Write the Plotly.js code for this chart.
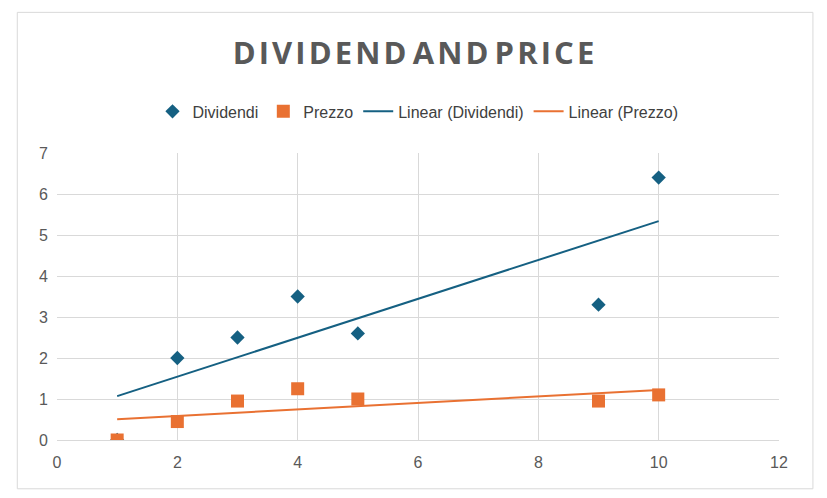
<!DOCTYPE html>
<html><head><meta charset="utf-8">
<script src="https://cdn.plot.ly/plotly-3.0.1.min.js"></script>
<style>body{margin:0;background:#fff}</style></head>
<body><div id="c" style="width:827px;height:498px"></div>
<script>
const xVals = [1, 2, 3, 4, 5, 9, 10];
const dividendi = [0, 2, 2.5, 3.5, 2.6, 3.3, 6.4];
const prezzo = [0, 0.45, 0.95, 1.25, 1.0, 0.95, 1.1];
function fit(x, y) {
  const n = x.length, mx = x.reduce((a,b)=>a+b)/n, my = y.reduce((a,b)=>a+b)/n;
  let sxy = 0, sxx = 0;
  for (let i = 0; i < n; i++) { sxy += (x[i]-mx)*(y[i]-my); sxx += (x[i]-mx)**2; }
  const m = sxy/sxx, b = my - m*mx;
  const xs = [Math.min(...x), Math.max(...x)];
  return {x: xs, y: xs.map(v => m*v + b)};
}
const fd = fit(xVals, dividendi), fp = fit(xVals, prezzo);
const blue = '#156082', orange = '#E97132';
const data = [
  {x: xVals, y: dividendi, mode: 'markers', name: 'Dividendi', marker: {symbol: 'diamond', size: 11, color: blue}},
  {x: xVals, y: prezzo, mode: 'markers', name: 'Prezzo', marker: {symbol: 'square', size: 13, color: orange}},
  {x: fd.x, y: fd.y, mode: 'lines', name: 'Linear (Dividendi)', line: {color: blue, width: 2}},
  {x: fp.x, y: fp.y, mode: 'lines', name: 'Linear (Prezzo)', line: {color: orange, width: 2}}
];
const layout = {
  width: 827, height: 498,
  margin: {l: 57, r: 48, t: 153, b: 58},
  paper_bgcolor: '#fff', plot_bgcolor: '#fff',
  font: {family: 'Liberation Sans, Arial', color: '#595959', size: 15},
  title: {text: '<b>D I V I D E N D  A N D  P R I C E</b>'.replace(/ /g, '\u200A'), x: 0.5, y: 0.915, font: {size: 31, color: '#595959', family: 'Open Sans, Arial'}},
  legend: {orientation: 'h', x: 0.5, xanchor: 'center', y: 1.145, yanchor: 'middle', font: {size: 16, color: '#404040'}},
  xaxis: {range: [0, 12], dtick: 2, showgrid: true, gridcolor: '#d9d9d9', zeroline: false, showline: true, linecolor: '#d9d9d9', ticks: '', tickfont: {size: 16}, ticklabelstandoff: 8},
  yaxis: {range: [0, 7], dtick: 1, showgrid: true, gridcolor: '#d9d9d9', zeroline: false, showline: false, ticks: '', tickfont: {size: 16}, ticklabelstandoff: 8},
  shapes: [{type: 'rect', xref: 'paper', yref: 'paper', x0: -0.055, x1: 1.047, y0: -0.17, y1: 1.49, line: {color: '#d9d9d9', width: 1}}]
};
Plotly.newPlot('c', data, layout, {displayModeBar: false});
</script></body></html>
